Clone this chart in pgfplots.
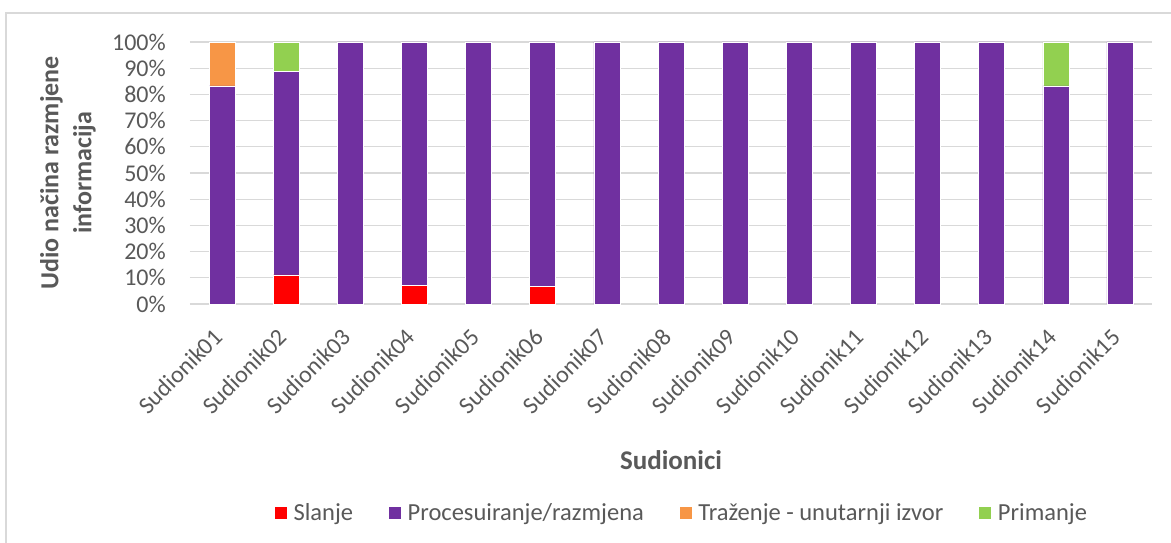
\documentclass[border=0pt]{standalone}
\usepackage{fontspec}
\setmainfont{Carlito}
\usepackage{pgfplots}
\pgfplotsset{compat=1.18}
\definecolor{cSl}{HTML}{FF0000}
\definecolor{cPr}{HTML}{7030A0}
\definecolor{cTr}{HTML}{F79646}
\definecolor{cPm}{HTML}{92D050}
\definecolor{txt}{HTML}{595959}
\definecolor{gridc}{HTML}{D9D9D9}
\begin{document}
\begin{tikzpicture}
\useasboundingbox (-190pt,-239pt) rectangle (981pt,304pt);
\draw[gridc, line width=1.3pt] (-184pt,-239pt) -- (-184pt,291pt) -- (981pt,291pt);
\begin{axis}[
  at={(0pt,0pt)}, anchor=south west,
  scale only axis, width=962pt, height=262pt,
  xmin=0.5, xmax=15.5, ymin=0, ymax=100,
  ybar stacked, bar width=26pt,
  axis line style={draw=none}, tick style={draw=none},
  ymajorgrids, grid style={gridc, line width=1.3pt},
  ytick={0,10,...,100},
  yticklabel={\pgfmathprintnumber{\tick}\%},
  /pgf/number format/assume math mode=true,
  yticklabel style={font=\fontsize{24}{28}\selectfont, text=txt, anchor=east, inner sep=0pt, xshift=-24pt},
  xtick={1,...,15},
  xticklabels={Sudionik01,Sudionik02,Sudionik03,Sudionik04,Sudionik05,Sudionik06,Sudionik07,Sudionik08,Sudionik09,Sudionik10,Sudionik11,Sudionik12,Sudionik13,Sudionik14,Sudionik15},
  xticklabel style={font=\fontsize{24}{28}\selectfont, text=txt, rotate=45, anchor=east, inner sep=0pt, xshift=-23pt, yshift=-18pt},
  legend columns=4,
  legend style={draw=none, at={(0.511,-0.798)}, anchor=center, font=\fontsize{24.5}{28}\selectfont, text=txt,
    /tikz/every odd column/.append style={column sep=4pt},
    /tikz/every even column/.append style={column sep=33pt}},
  legend image code/.code={\fill[#1] (0pt,-6pt) rectangle (13pt,7pt);},
]
\addplot[fill=cSl, draw=white, line width=0.5pt] coordinates {(1,0) (2,11.1) (3,0) (4,7.1) (5,0) (6,6.7) (7,0) (8,0) (9,0) (10,0) (11,0) (12,0) (13,0) (14,0) (15,0)};
\addlegendentry{Slanje}
\addplot[fill=cPr, draw=white, line width=0.5pt] coordinates {(1,83.3) (2,77.8) (3,100) (4,92.9) (5,100) (6,93.3) (7,100) (8,100) (9,100) (10,100) (11,100) (12,100) (13,100) (14,83.3) (15,100)};
\addlegendentry{Procesuiranje/razmjena}
\addplot[fill=cTr, draw=white, line width=0.5pt] coordinates {(1,16.7) (2,0) (3,0) (4,0) (5,0) (6,0) (7,0) (8,0) (9,0) (10,0) (11,0) (12,0) (13,0) (14,0) (15,0)};
\addlegendentry{Traženje - unutarnji izvor}
\addplot[fill=cPm, draw=white, line width=0.5pt] coordinates {(1,0) (2,11.1) (3,0) (4,0) (5,0) (6,0) (7,0) (8,0) (9,0) (10,0) (11,0) (12,0) (13,0) (14,16.7) (15,0)};
\addlegendentry{Primanje}
\end{axis}
\node[font=\bfseries\fontsize{26}{33}\selectfont, text=txt, rotate=90, align=center] at (-122pt,131pt) {Udio načina razmjene\\informacija};
\node[font=\bfseries\fontsize{27}{30}\selectfont, text=txt] at (481pt,-156pt) {Sudionici};
\end{tikzpicture}
\end{document}
